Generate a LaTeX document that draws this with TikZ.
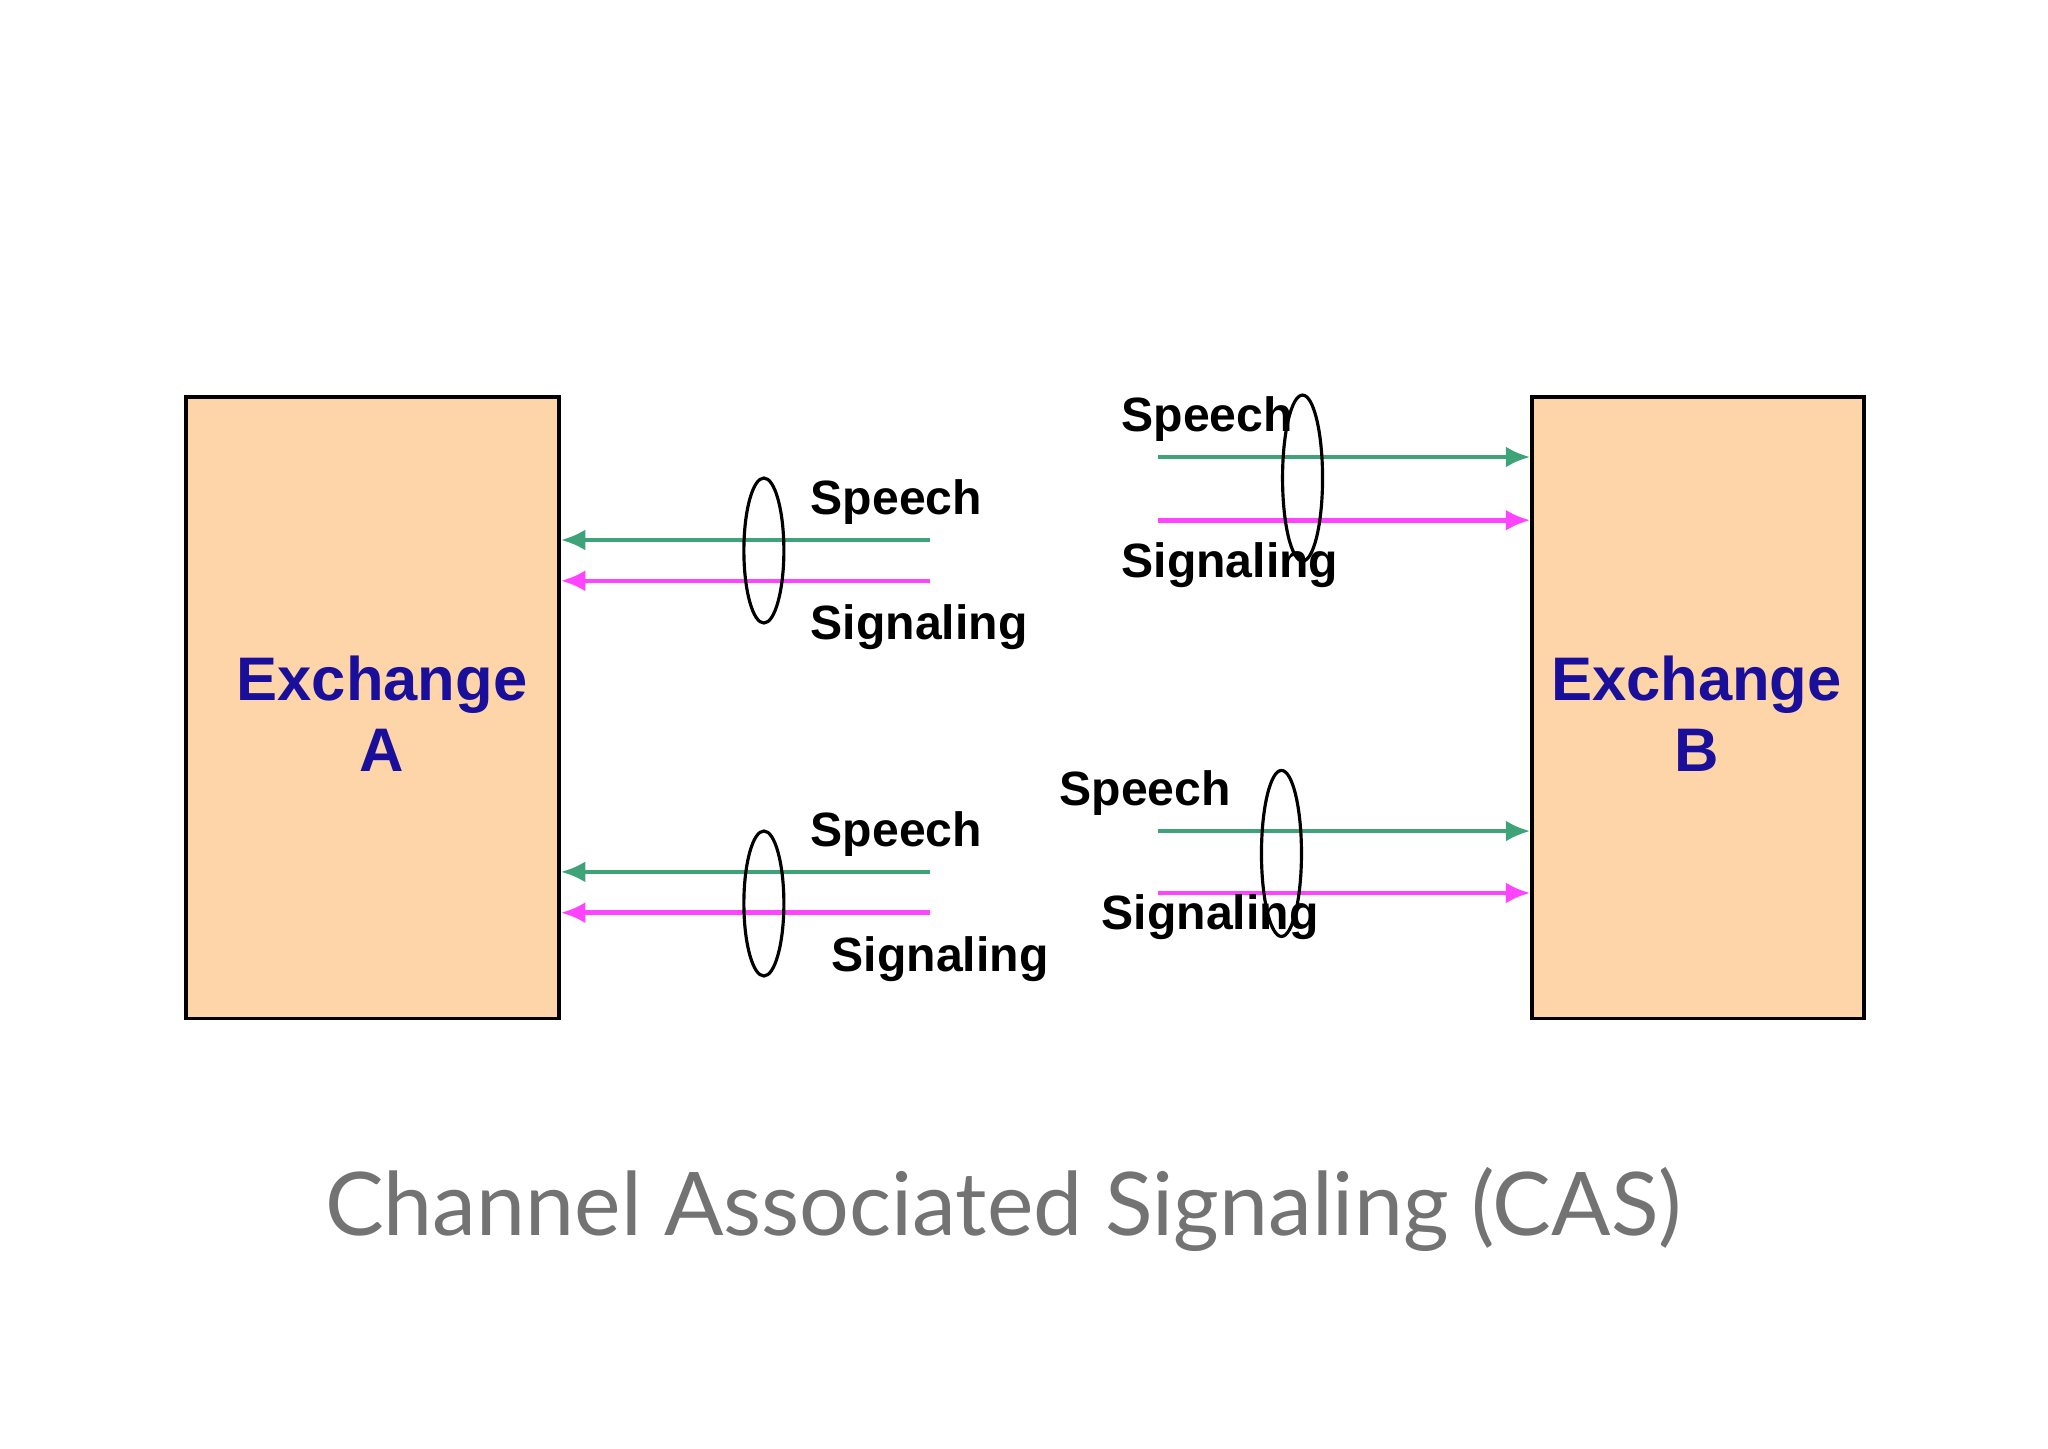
\documentclass[tikz,border=0pt]{standalone}
\usepackage{fontspec}
\setmainfont{Liberation Sans}
\newfontfamily\capfont{Lato}
\usetikzlibrary{shapes.geometric,arrows.meta}
\definecolor{peach}{HTML}{FDD5A9}
\definecolor{exblue}{HTML}{1A0F9A}
\definecolor{speechgreen}{HTML}{3FA37A}
\definecolor{sigpink}{HTML}{FF44FF}
\begin{document}
\begin{tikzpicture}[x=0.01317cm,y=-0.01317cm]

\tikzset{exch/.style={draw=black,line width=1pt,fill=peach,anchor=north west,inner sep=0pt},}
\tikzset{exlabel/.style={text=exblue,font=\fontsize{17.5}{20}\selectfont\bfseries,align=center},}
\tikzset{lbl/.style={anchor=west,inner sep=0pt,font=\fontsize{13.7}{16}\selectfont\bfseries},}
\tikzset{bundle/.style={ellipse,draw,line width=0.9pt,minimum width=30\pgfqpoint{0.01317cm}{0cm}},}
\tikzset{speech/.style={-{Latex[length=7pt,width=6pt]},line width=1.3pt,speechgreen},}
\tikzset{signal/.style={-{Latex[length=7pt,width=6pt]},line width=1.3pt,sigpink},}

\useasboundingbox (0,0) rectangle (1555,1100);

\node[exch,minimum width=3.727cm,minimum height=6.216cm] (exA) at (140,300) {};
\node[exch,minimum width=3.319cm,minimum height=6.216cm] (exB) at (1162,300) {};
\node[exlabel] (exAt) at (290,542) {Exchange\\A};
\node[exlabel] (exBt) at (1288,542) {Exchange\\B};

% A side, upper
\coordinate (a1s) at (706,410); \coordinate (a1e) at (exA.east |- a1s);
\coordinate (a1g) at (706,441); \coordinate (a1f) at (exA.east |- a1g);
\draw[speech] (a1s) -- (a1e);
\draw[signal] (a1g) -- (a1f);
\node[bundle,minimum width=0.4cm,minimum height=1.45cm] (e1) at (580,418) {};
\node[lbl] (s1) at (615,381) {Speech};
\node[lbl] (g1) at (615,476) {Signaling};

% A side, lower
\coordinate (a2s) at (706,662); \coordinate (a2e) at (exA.east |- a2s);
\coordinate (a2g) at (706,693); \coordinate (a2f) at (exA.east |- a2g);
\draw[speech] (a2s) -- (a2e);
\draw[signal] (a2g) -- (a2f);
\node[bundle,minimum width=0.4cm,minimum height=1.45cm] (e2) at (580,686) {};
\node[lbl] (s2) at (615,633) {Speech};
\node[lbl] (g2) at (631,728) {Signaling};

% B side, upper
\coordinate (b1s) at (879,347); \coordinate (b1e) at (exB.west |- b1s);
\coordinate (b1g) at (879,395); \coordinate (b1f) at (exB.west |- b1g);
\draw[speech] (b1s) -- (b1e);
\draw[signal] (b1g) -- (b1f);
\node[lbl] (s3) at (851,318) {Speech};
\node[lbl] (g3) at (851,429) {Signaling};
\node[bundle,minimum width=0.4cm,minimum height=1.66cm] (e3) at (989,363) {};

% B side, lower
\coordinate (b2s) at (879,631); \coordinate (b2e) at (exB.west |- b2s);
\coordinate (b2g) at (879,678); \coordinate (b2f) at (exB.west |- b2g);
\draw[speech] (b2s) -- (b2e);
\draw[signal] (b2g) -- (b2f);
\node[lbl] (s4) at (804,602) {Speech};
\node[lbl] (g4) at (836,696) {Signaling};
\node[bundle,minimum width=0.4cm,minimum height=1.66cm] (e4) at (973,648) {};

\node[text=black!55,font=\capfont\fontsize{25}{30}\selectfont] (cap) at (762,918) {Channel Associated Signaling (CAS)};

\end{tikzpicture}
\end{document}
